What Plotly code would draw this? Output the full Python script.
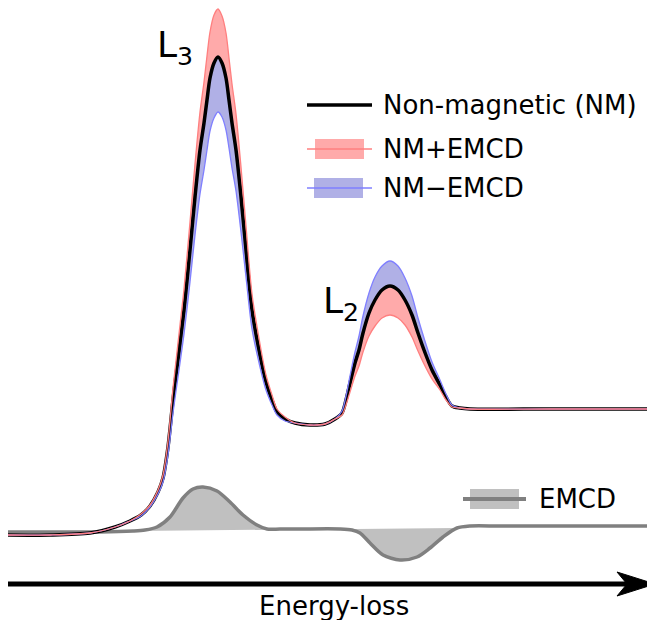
import plotly.graph_objects as go

# ---- data (arbitrary units; energy-loss axis, intensity axis) ----
energy = [8, 50, 90, 115, 130, 141, 150, 158, 163, 168, 173, 176, 180, 184, 190, 195, 200, 204, 207,
          210, 214, 218, 222, 226, 229, 232, 236, 241, 246, 252, 260, 266, 272, 277, 285, 295, 310,
          325, 335, 342, 346, 350, 355, 359, 363, 369, 375, 382, 390, 398, 405, 412, 418, 424, 432,
          440, 446, 452, 460, 470, 550, 650]
nm = [0, 0, 2, 8, 14, 20, 29, 43, 57, 88, 135, 160, 192, 225, 285, 338, 385, 412, 435,
      457, 472, 478, 472, 457, 435, 412, 385, 338, 285, 225, 180, 153, 135, 123, 116, 112, 110,
      111, 116, 122, 135, 152, 172, 185, 202, 222, 235, 245, 249, 245, 235, 220, 202, 185, 165,
      150, 138, 129, 127, 126, 126, 126]
nm_plus = [0, 0, 2, 8, 14, 21, 30, 45, 60, 94, 147, 174, 210, 246, 313, 371, 423, 453, 479,
           503, 520, 526, 519, 502, 477, 451, 421, 368, 309, 241, 191, 160, 140, 126, 118, 112, 110,
           111, 116, 120, 130, 143, 159, 169, 183, 199, 209, 217, 220, 217, 210, 198, 184, 171, 156,
           145, 135, 128, 127, 126, 126, 126]
nm_minus = [0, 0, 2, 8, 14, 19, 28, 41, 53, 80, 122, 144, 172, 201, 253, 300, 341, 365, 385,
            404, 417, 423, 418, 405, 387, 367, 344, 303, 258, 206, 168, 145, 130, 120, 114, 112, 110,
            111, 116, 124, 139, 159, 183, 199, 219, 242, 258, 269, 274, 269, 257, 239, 217, 197, 173,
            155, 141, 130, 127, 126, 126, 126]

emcd_energy = [8, 60, 100, 133, 145, 157, 170, 183, 193, 203, 217, 230, 243, 257, 267, 280, 300,
               340, 352, 360, 370, 383, 400, 417, 430, 443, 457, 470, 500, 580, 650]
emcd = [3, 3, 3, 4, 5, 8, 18, 37, 46, 48, 44, 33, 20, 10, 6, 6, 6,
        6, 5, 2, -8, -20, -25, -22, -13, -2, 7, 9, 9, 9, 9]
emcd_fill_start, emcd_fill_end = 133, 457
emcd_zero_energy = [133, 457]
emcd_zero = [4, 7]

labels = ["Non-magnetic (NM)", "NM+EMCD", "NM\u2212EMCD", "EMCD"]

# ---- styles ----
BLACK = "#000000"
RED_LINE = "#ff7f7f"
RED_FILL = "#ffaaaa"
BLUE_LINE = "#7f7fff"
BLUE_FILL = "#b0b0e6"
GRAY_LINE = "#808080"
GRAY_FILL = "#c0c0c0"
FONT = "DejaVu Sans"

fig = go.Figure()
sp = dict(shape="spline", smoothing=0.8)

fig.add_trace(go.Scatter(x=energy, y=nm, mode="lines", line=dict(width=0, **sp), hoverinfo="skip"))
fig.add_trace(go.Scatter(x=energy, y=nm_plus, mode="lines", line=dict(width=0, **sp),
                         fill="tonexty", fillcolor=RED_FILL, hoverinfo="skip"))
fig.add_trace(go.Scatter(x=energy, y=nm, mode="lines", line=dict(width=0, **sp), hoverinfo="skip"))
fig.add_trace(go.Scatter(x=energy, y=nm_minus, mode="lines", line=dict(width=0, **sp),
                         fill="tonexty", fillcolor=BLUE_FILL, hoverinfo="skip"))

# EMCD fill to its zero line
seg = [i for i, e in enumerate(emcd_energy) if emcd_fill_start <= e <= emcd_fill_end]
fig.add_trace(go.Scatter(x=emcd_zero_energy, y=emcd_zero, mode="lines", line=dict(width=0),
                         hoverinfo="skip"))
fig.add_trace(go.Scatter(x=[emcd_energy[i] for i in seg], y=[emcd[i] for i in seg], mode="lines",
                         line=dict(width=0, **sp), fill="tonexty", fillcolor=GRAY_FILL,
                         hoverinfo="skip"))
fig.add_trace(go.Scatter(x=emcd_energy, y=emcd, mode="lines", name=labels[3],
                         line=dict(color=GRAY_LINE, width=3.5, **sp)))

fig.add_trace(go.Scatter(x=energy, y=nm, mode="lines", name=labels[0],
                         line=dict(color=BLACK, width=3.5, **sp)))
fig.add_trace(go.Scatter(x=energy, y=nm_minus, mode="lines", name=labels[2],
                         line=dict(color=BLUE_LINE, width=1.3, **sp)))
fig.add_trace(go.Scatter(x=energy, y=nm_plus, mode="lines", name=labels[1],
                         line=dict(color=RED_LINE, width=1.3, **sp)))

shapes = []
annotations = []

# manual legend
def text(x, y, s, size=26):
    annotations.append(dict(x=x, y=y, xref="x", yref="y", text=s, showarrow=False,
                            xanchor="left", yanchor="middle",
                            font=dict(family=FONT, size=size, color="black")))

shapes.append(dict(type="line", x0=307, x1=372, y0=430, y1=430, xref="x", yref="y",
                   line=dict(color=BLACK, width=3.5)))
text(381, 430, labels[0])
shapes.append(dict(type="rect", x0=315, x1=364, y0=376, y1=396, xref="x", yref="y",
                   fillcolor=RED_FILL, line=dict(width=0)))
shapes.append(dict(type="line", x0=307, x1=372, y0=386, y1=386, xref="x", yref="y",
                   line=dict(color=RED_LINE, width=1.5)))
text(381, 386, labels[1])
shapes.append(dict(type="rect", x0=314, x1=363, y0=337, y1=357, xref="x", yref="y",
                   fillcolor=BLUE_FILL, line=dict(width=0)))
shapes.append(dict(type="line", x0=307, x1=372, y0=347, y1=347, xref="x", yref="y",
                   line=dict(color=BLUE_LINE, width=1.5)))
text(381, 347, labels[2])
shapes.append(dict(type="rect", x0=470, x1=519, y0=26, y1=46, xref="x", yref="y",
                   fillcolor=GRAY_FILL, line=dict(width=0)))
shapes.append(dict(type="line", x0=463, x1=526, y0=36, y1=36, xref="x", yref="y",
                   line=dict(color=GRAY_LINE, width=4)))
text(537, 36, labels[3])

# peak labels
annotations.append(dict(x=155, y=488, xref="x", yref="y", text="L<sub>3</sub>", showarrow=False,
                        xanchor="left", yanchor="middle", font=dict(family=FONT, size=36, color="black")))
annotations.append(dict(x=321, y=232, xref="x", yref="y", text="L<sub>2</sub>", showarrow=False,
                        xanchor="left", yanchor="middle", font=dict(family=FONT, size=36, color="black")))

# energy-loss arrow
shapes.append(dict(type="line", x0=8, x1=628, y0=-49, y1=-49, xref="x", yref="y",
                   line=dict(color=BLACK, width=5)))
shapes.append(dict(type="path", path="M 617,-37 L 655,-49 L 617,-61 L 627,-49 Z", xref="x", yref="y",
                   fillcolor=BLACK, line=dict(color=BLACK, width=1)))
annotations.append(dict(x=334, y=-71, xref="x", yref="y", text="Energy-loss", showarrow=False,
                        xanchor="center", yanchor="middle", font=dict(family=FONT, size=26, color="black")))

# page has an 8px body margin: figure sized to fill the rest of the 655x620 window
fig.update_layout(
    width=647, height=612,
    margin=dict(l=0, r=0, t=0, b=0),
    paper_bgcolor="white", plot_bgcolor="white",
    showlegend=False,
    xaxis=dict(range=[8, 655], visible=False, fixedrange=True),
    yaxis=dict(range=[-85, 527], visible=False, fixedrange=True),
    shapes=shapes, annotations=annotations,
)

fig.write_html("out.html")
